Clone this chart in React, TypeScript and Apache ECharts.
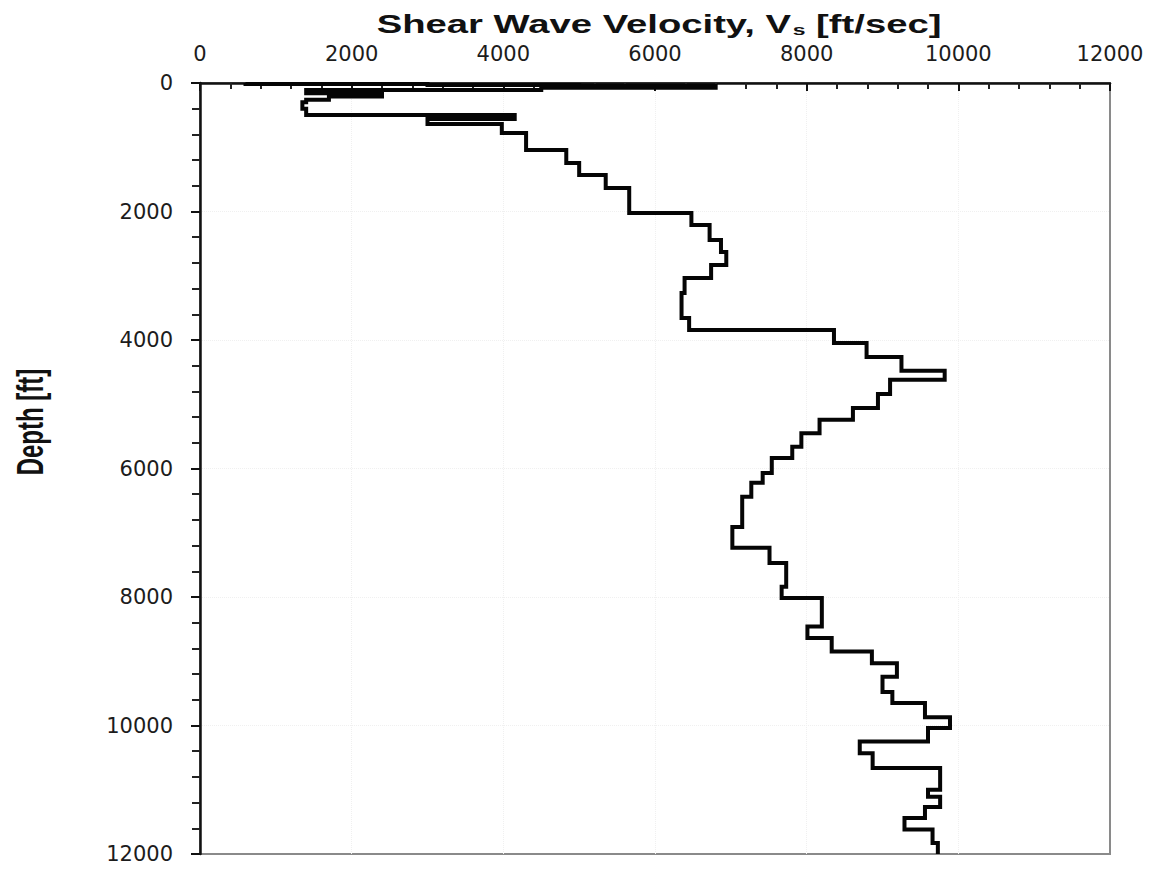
import React, { useEffect, useRef } from "react";
import * as echarts from "echarts";

// Layer tops (ft) and shear wave velocity of each layer (ft/sec)
const depthTops = [
  0, 15, 30, 45, 75, 110, 160, 210, 260, 300, 400, 498, 560, 640, 778, 1043, 1245, 1432, 1634, 2023,
  2210, 2443, 2630, 2832, 3034, 3268, 3657, 3843, 4046, 4263, 4480, 4620, 4840, 5060, 5240, 5450,
  5660, 5835, 6070, 6220, 6440, 6910, 7235, 7470, 7840, 8015, 8460, 8640, 8850, 9030, 9240, 9480,
  9650, 9870, 10040, 10250, 10430, 10660, 11000, 11110, 11270, 11440, 11620, 11830,
];
const velocities = [
  600, 3000, 5000, 6800, 4500, 1400, 2400, 1700, 1400, 1350, 1400, 4150, 3000, 3980, 4300, 4830,
  5000, 5350, 5660, 6480, 6720, 6870, 6940, 6740, 6390, 6350, 6450, 8360, 8790, 9250, 9820, 9100,
  8940, 8610, 8170, 7930, 7810, 7540, 7420, 7270, 7150, 7020, 7510, 7730, 7670, 8200, 8010, 8330,
  8860, 9190, 9000, 9130, 9560, 9890, 9600, 8700, 8870, 9760, 9600, 9760, 9560, 9290, 9660, 9730,
];
const maxDepth = 12000;
const velocityTicks = [0, 2000, 4000, 6000, 8000, 10000, 12000];
const depthTicks = [0, 2000, 4000, 6000, 8000, 10000, 12000];

const titleText = "{a|Shear Wave Velocity, V}{s|s}{a| [ft/sec]}";
const yNameText = "Depth [ft]";

export default function App() {
  const ref = useRef<HTMLDivElement>(null);
  useEffect(() => {
    if (!ref.current) return;
    const chart = echarts.init(ref.current, undefined, { renderer: "svg" });
    const pts: [number, number][] = [];
    for (let i = 0; i < depthTops.length; i++) {
      const bottom = i + 1 < depthTops.length ? depthTops[i + 1] : maxDepth;
      pts.push([velocities[i], depthTops[i]]);
      pts.push([velocities[i], bottom]);
    }
    const labelFont = "DejaVu Sans";
    const plain = (v: number) => String(v);
    chart.setOption({
      animation: false,
      backgroundColor: "#ffffff",
      grid: {
        left: 200,
        right: 60,
        top: 83,
        bottom: 15,
        show: true,
        borderColor: "#8a8a8a",
        borderWidth: 2,
      },
      xAxis: {
        type: "value",
        position: "top",
        min: velocityTicks[0],
        max: velocityTicks[velocityTicks.length - 1],
        interval: 2000,
        axisLine: { show: true, lineStyle: { color: "#111", width: 2.5 } },
        axisTick: { show: true, inside: true, length: 8, lineStyle: { color: "#111", width: 2 } },
        minorTick: { show: true, splitNumber: 5, length: 6, lineStyle: { color: "#222", width: 2 } },
        axisLabel: {
          fontFamily: labelFont,
          fontSize: 21,
          color: "#1c1c1c",
          margin: 19,
          formatter: plain,
        },
        splitLine: {
          show: true,
          showMinLine: false,
          showMaxLine: false,
          lineStyle: { color: "#f0f0f0", type: "dotted", width: 1 },
        },
      },
      yAxis: {
        type: "value",
        inverse: true,
        min: depthTicks[0],
        max: depthTicks[depthTicks.length - 1],
        interval: 2000,
        axisLine: { show: true, lineStyle: { color: "#111", width: 2.5 } },
        axisTick: { show: true, inside: false, length: 9, lineStyle: { color: "#111", width: 2 } },
        minorTick: { show: true, splitNumber: 5, length: 8, lineStyle: { color: "#222", width: 2 } },
        axisLabel: {
          fontFamily: labelFont,
          fontSize: 21,
          color: "#1c1c1c",
          margin: 27,
          formatter: plain,
        },
        splitLine: {
          show: true,
          showMinLine: false,
          showMaxLine: false,
          lineStyle: { color: "#f0f0f0", type: "dotted", width: 1 },
        },
      },
      graphic: [
        {
          type: "text",
          x: 659,
          y: 24,
          scaleX: 1.53,
          scaleY: 1,
          style: {
            text: titleText,
            textAlign: "center",
            textVerticalAlign: "middle",
            fill: "#111",
            rich: {
              a: {
                fontFamily: "Liberation Sans",
                fontWeight: "bold",
                fontSize: 25,
                lineHeight: 30,
                fill: "#111",
                verticalAlign: "middle",
              },
              s: {
                fontFamily: "Liberation Sans",
                fontWeight: "bold",
                fontSize: 15,
                lineHeight: 30,
                fill: "#111",
                verticalAlign: "bottom",
                padding: [0, 0, 2, 1],
              },
            },
          },
        },
        {
          type: "text",
          x: 31,
          y: 422,
          rotation: Math.PI / 2,
          scaleX: 1,
          scaleY: 1.55,
          style: {
            text: yNameText,
            textAlign: "center",
            textVerticalAlign: "middle",
            fontFamily: "Liberation Sans",
            fontWeight: "bold",
            fontSize: 24,
            fill: "#111",
          },
        },
      ],
      series: [
        {
          type: "line",
          data: pts,
          showSymbol: false,
          symbol: "none",
          lineStyle: { color: "#050505", width: 4, join: "miter" },
          z: 5,
        },
      ],
    });
    return () => chart.dispose();
  }, []);
  return (
    <div
      ref={ref}
      style={{ position: "absolute", left: 0, top: 0, width: 1170, height: 869, background: "#fff" }}
    />
  );
}
